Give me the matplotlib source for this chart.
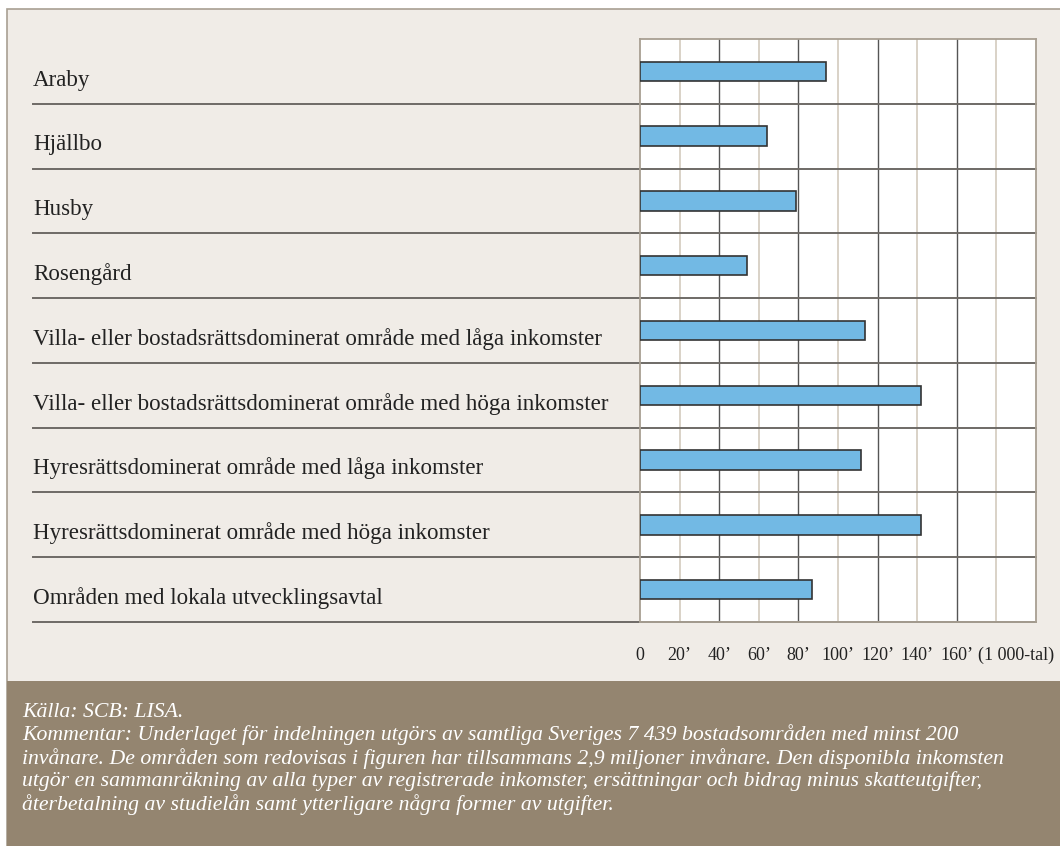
import matplotlib
matplotlib.use('Agg')
import matplotlib.pyplot as plt
from matplotlib.patches import Rectangle

# data (1 000-tal)
areas = [
    'Araby',
    'Hjällbo',
    'Husby',
    'Rosengård',
    'Villa- eller bostadsrättsdominerat område med låga inkomster',
    'Villa- eller bostadsrättsdominerat område med höga inkomster',
    'Hyresrättsdominerat område med låga inkomster',
    'Hyresrättsdominerat område med höga inkomster',
    'Områden med lokala utvecklingsavtal',
]
income = [94, 64, 79, 54, 113.5, 142, 111.5, 142, 87]

tick_values = [0, 20, 40, 60, 80, 100, 120, 140, 160, 190]
tick_labels = ['0', '20’', '40’', '60’', '80’', '100’', '120’', '140’', '160’', '(1 000-tal)']

footer_lines = [
    'Källa: SCB: LISA.',
    'Kommentar: Underlaget för indelningen utgörs av samtliga Sveriges 7 439 bostadsområden med minst 200',
    'invånare. De områden som redovisas i figuren har tillsammans 2,9 miljoner invånare. Den disponibla inkomsten',
    'utgör en sammanräkning av alla typer av registrerade inkomster, ersättningar och bidrag minus skatteutgifter,',
    'återbetalning av studielån samt ytterligare några former av utgifter.',
]

BG = '#f0ece7'
FOOT = '#948570'
BAR = '#72b9e4'
SERIF = ['Liberation Serif', 'DejaVu Serif']

W, H = 1060, 846
fig = plt.figure(figsize=(W / 100, H / 100), dpi=100)
fig.patch.set_facecolor('white')

# outer panel and footer band
fig.patches.append(Rectangle((7 / W, 0), 1.1, 1 - 9 / H, transform=fig.transFigure,
                             facecolor=BG, edgecolor='#a89f92', lw=1.2, zorder=-2))
fig.patches.append(Rectangle((7 / W, 0), 1.1, 1 - 681 / H, transform=fig.transFigure,
                             facecolor=FOOT, edgecolor='none', zorder=-1))

left, right = 640 / W, 1036 / W
top, bottom = 1 - 39 / H, 1 - 622 / H
ax = fig.add_axes([left, bottom, right - left, top - bottom])
ax.set_zorder(5)
ax.set_facecolor('white')

n = len(areas)
ys = list(range(n))
ax.set_xlim(0, 200)
ax.set_ylim(n - 0.5, -0.5)

# vertical grid, alternating light / dark
for v in range(20, 200, 20):
    if v % 40 == 0:
        ax.axvline(v, color='#555555', lw=1.0, zorder=1)
    else:
        ax.axvline(v, color='#d3cbbe', lw=1.2, zorder=1)

ax.barh(ys, income, height=0.3, color=BAR, edgecolor='#333333', lw=1.2, zorder=3)

# row separators running from the labels through the plot
x0 = (33 - 640) / 396
for i in range(n):
    ax.plot([x0, 1], [i + 0.5, i + 0.5], transform=ax.get_yaxis_transform(),
            color='#6e6a66', lw=1.4, clip_on=False, zorder=2)

for y, name in zip(ys, areas):
    ax.text(x0, y + 0.22, name, transform=ax.get_yaxis_transform(),
            ha='left', va='baseline', fontsize=16.6, family=SERIF, color='#222222')

for s in ax.spines.values():
    s.set_color('#a89f92')
    s.set_linewidth(1.3)

ax.set_yticks([])
ax.set_xticks(tick_values)
ax.set_xticklabels(tick_labels, family=SERIF, fontsize=13, color='#222222')
ax.tick_params(axis='x', length=0, pad=18)

fig.text(22 / W, 1 - 703 / H, '\n'.join(footer_lines), ha='left', va='top',
         fontsize=15.7, style='italic', family=SERIF, color='white', linespacing=1.16)

fig.savefig('out.png', dpi=100, facecolor=fig.get_facecolor())
